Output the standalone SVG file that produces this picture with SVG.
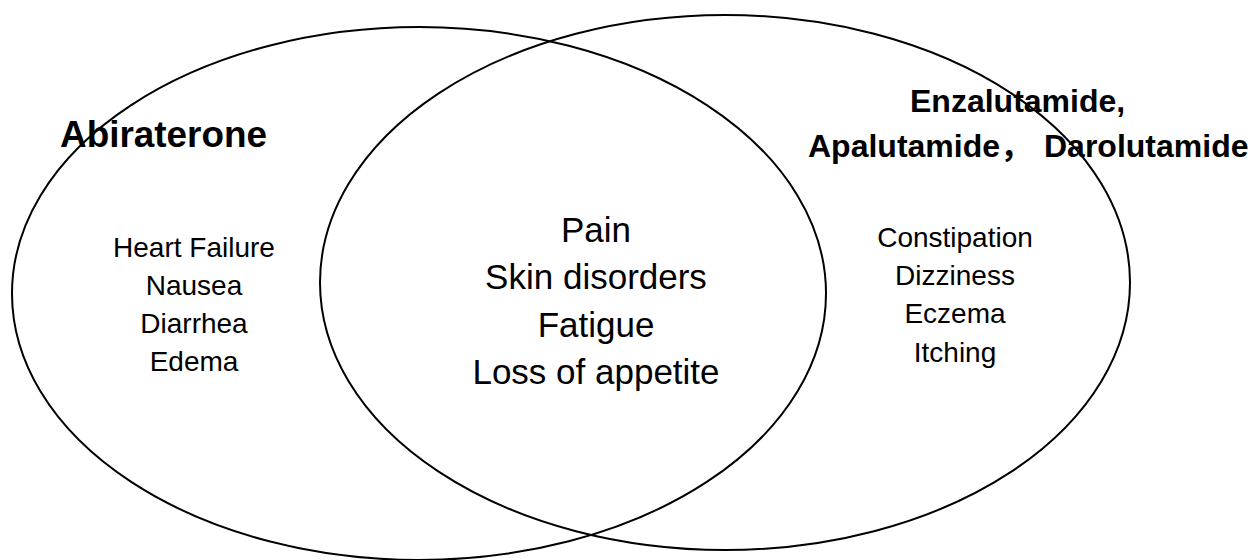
<svg xmlns="http://www.w3.org/2000/svg" width="1256" height="560" viewBox="0 0 1256 560">
<style>
.ring{fill:none;stroke:#000;stroke-width:2}
.h{font-family:"Liberation Sans","Noto Sans CJK SC",Arial,sans-serif;font-weight:bold;fill:#000}
.t{font-family:"Liberation Sans",Arial,sans-serif;fill:#000;text-anchor:middle}
</style>
<rect width="1256" height="560" fill="#fff"/>
<g id="set-abiraterone">
<ellipse class="ring" cx="419" cy="293.5" rx="407" ry="266.5"/>
<text class="h" x="60" y="147" font-size="36" textLength="207" lengthAdjust="spacingAndGlyphs">Abiraterone</text>
<text class="t" font-size="28"><tspan x="194" y="257">Heart Failure</tspan><tspan x="194" y="295">Nausea</tspan><tspan x="194" y="333">Diarrhea</tspan><tspan x="194" y="371">Edema</tspan></text>
</g>
<g id="set-ar-inhibitors">
<ellipse class="ring" cx="725" cy="282.5" rx="405" ry="267.5"/>
<text class="h" font-size="32"><tspan x="910" y="112">Enzalutamide,</tspan><tspan x="808" y="157">Apalutamide，</tspan><tspan x="1044" y="157">Darolutamide</tspan></text>
<text class="t" font-size="28"><tspan x="955" y="247">Constipation</tspan><tspan x="955" y="285">Dizziness</tspan><tspan x="955" y="323">Eczema</tspan><tspan x="955" y="362">Itching</tspan></text>
</g>
<g id="overlap">
<text class="t" font-size="35"><tspan x="596" y="242">Pain</tspan><tspan x="596" y="289">Skin disorders</tspan><tspan x="596" y="337">Fatigue</tspan><tspan x="596" y="384">Loss of appetite</tspan></text>
</g>
<g id="connectors"></g>
</svg>
